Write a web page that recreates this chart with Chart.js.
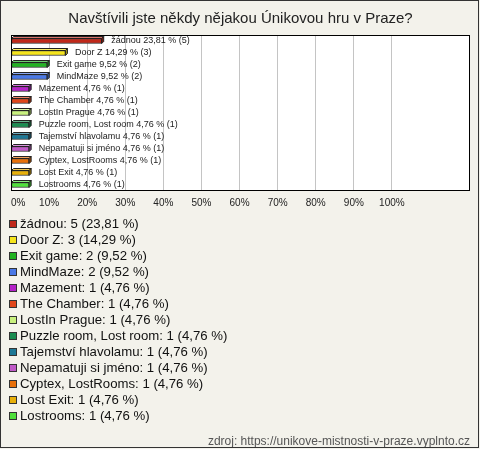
<!DOCTYPE html>
<html>
<head>
<meta charset="utf-8">
<script src="https://cdn.jsdelivr.net/npm/chart.js@4"></script>
<style>
  body { margin: 0; background: #f3f2eb; }
  #obal { position: relative; width: 480px; height: 449px; background: #f3f2eb; font-family: "Liberation Sans", Arial, sans-serif; }
  #graf { position: absolute; left: 0; top: 0; }
  #ramecek { position: absolute; left: 0; top: 0; width: 477px; height: 446px; border: 1px solid #333; pointer-events: none; }
  #legenda { position: absolute; left: 9px; top: 216px; font-size: 13.2px; color: #111; }
  #legenda div { height: 16px; line-height: 16px; white-space: nowrap; }
  #legenda span.ctv { display: inline-block; width: 6px; height: 6px; border: 1px solid #333; margin-right: 3px; vertical-align: 0px; }
  #zdroj { position: absolute; right: 10px; top: 434px; font-size: 12px; color: #555; }
</style>
</head>
<body>
<div id="obal">
  <canvas id="graf" width="480" height="449"></canvas>
  <div id="legenda"></div>
  <div id="zdroj">zdroj: https://unikove-mistnosti-v-praze.vyplnto.cz</div>
  <div id="ramecek"></div>
</div>
<script>
// Data z obrázku
const kategorie = ['žádnou', 'Door Z', 'Exit game', 'MindMaze', 'Mazement', 'The Chamber', 'LostIn Prague',
    'Puzzle room, Lost room', 'Tajemství hlavolamu', 'Nepamatuji si jméno', 'Cyptex, LostRooms', 'Lost Exit', 'Lostrooms'];
const pocty = [5, 3, 2, 2, 1, 1, 1, 1, 1, 1, 1, 1, 1];
const procenta = [23.81, 14.29, 9.52, 9.52, 4.76, 4.76, 4.76, 4.76, 4.76, 4.76, 4.76, 4.76, 4.76];
const barvy = ['#c0281a', '#f5e41c', '#22b322', '#4a78e6', '#b422c8', '#e0461a', '#c8f07e',
    '#1a8c50', '#1e7896', '#c05ac8', '#e8700a', '#e8b00a', '#50e03c'];
const hodnotyOsy = [0, 10, 20, 30, 40, 50, 60, 70, 80, 90, 100];

const carka = v => v.toFixed(2).replace('.', ',');

function odstin(hex, k) {
    const n = parseInt(hex.slice(1), 16);
    const f = c => Math.max(0, Math.min(255, Math.round(k > 0 ? c + (255 - c) * k : c * (1 + k))));
    return 'rgb(' + f(n >> 16) + ',' + f((n >> 8) & 255) + ',' + f(n & 255) + ')';
}

// Legenda pod grafem
const legenda = document.getElementById('legenda');
kategorie.forEach((k, i) => {
    const radek = document.createElement('div');
    radek.innerHTML = '<span class="ctv" style="background:' + barvy[i] + '"></span>' +
        k + ': ' + pocty[i] + ' (' + carka(procenta[i]) + ' %)';
    legenda.appendChild(radek);
});

const doplnky = {
    id: 'doplnky',
    beforeDraw(chart) {
        const a = chart.chartArea, ctx = chart.ctx;
        ctx.save();
        ctx.fillStyle = '#ffffff';
        ctx.fillRect(a.left, a.top, a.right - a.left, a.bottom - a.top);
        ctx.restore();
    },
    afterDatasetsDraw(chart) {
        const ctx = chart.ctx, a = chart.chartArea, sx = chart.scales.x;
        const d = 2;
        ctx.save();
        chart.getDatasetMeta(0).data.forEach((bar, i) => {
            const p = bar.getProps(['x', 'y', 'base', 'height'], true);
            const top = p.y - p.height / 2, bottom = p.y + p.height / 2;
            ctx.lineWidth = 1;
            ctx.strokeStyle = '#222';
            // horní plocha
            ctx.beginPath();
            ctx.moveTo(p.base, top);
            ctx.lineTo(p.base + d, top - d);
            ctx.lineTo(p.x + d, top - d);
            ctx.lineTo(p.x, top);
            ctx.closePath();
            ctx.fillStyle = odstin(barvy[i], 0.35);
            ctx.fill();
            ctx.stroke();
            // pravá plocha
            ctx.beginPath();
            ctx.moveTo(p.x, top);
            ctx.lineTo(p.x + d, top - d);
            ctx.lineTo(p.x + d, bottom - d);
            ctx.lineTo(p.x, bottom);
            ctx.closePath();
            ctx.fillStyle = odstin(barvy[i], -0.35);
            ctx.fill();
            ctx.stroke();
            // popisek
            ctx.fillStyle = '#222';
            ctx.font = '9px "Liberation Sans", Arial, sans-serif';
            ctx.textBaseline = 'middle';
            ctx.textAlign = 'left';
            ctx.fillText(kategorie[i] + ' ' + carka(procenta[i]) + ' % (' + pocty[i] + ')', p.x + 9.5, p.y);
        });
        // rámeček plochy grafu
        ctx.strokeStyle = '#000';
        ctx.lineWidth = 1;
        ctx.strokeRect(Math.round(a.left) + 0.5, Math.round(a.top) + 0.5,
            Math.round(a.right - a.left) - 1, Math.round(a.bottom - a.top) - 1);
        // popisky osy x
        ctx.fillStyle = '#222';
        ctx.font = '10px "Liberation Sans", Arial, sans-serif';
        ctx.textBaseline = 'middle';
        hodnotyOsy.forEach(v => {
            const x = sx.getPixelForValue(v);
            const t = v + '%';
            const w = ctx.measureText(t).width;
            ctx.textAlign = 'left';
            ctx.fillText(t, Math.max(a.left, x - w / 2), a.bottom + 12);
        });
        ctx.restore();
    }
};

new Chart(document.getElementById('graf').getContext('2d'), {
    type: 'bar',
    data: {
        labels: kategorie,
        datasets: [{
            data: procenta,
            backgroundColor: barvy,
            borderColor: '#222',
            borderWidth: 1,
            borderSkipped: false,
            barThickness: 5,
        }],
    },
    options: {
        indexAxis: 'y',
        responsive: false,
        animation: false,
        layout: { padding: { left: 11, right: 10, top: 0, bottom: 258 } },
        plugins: {
            legend: { display: false },
            tooltip: { enabled: false },
            title: {
                display: true,
                text: 'Navštívili jste někdy nějakou Únikovou hru v Praze?',
                color: '#222',
                font: { family: '"Liberation Sans", Arial, sans-serif', size: 15, weight: 'normal', lineHeight: 1.2 },
                padding: { top: 10, bottom: 7 },
            },
        },
        scales: {
            x: {
                min: 0,
                max: 120.5,
                afterBuildTicks: s => { s.ticks = hodnotyOsy.map(v => ({ value: v })); },
                ticks: { display: false },
                grid: { color: '#c4c4c4', lineWidth: 1, drawTicks: false },
                border: { display: false },
            },
            y: {
                display: false,
            },
        },
    },
    plugins: [doplnky],
});
</script>
</body>
</html>
